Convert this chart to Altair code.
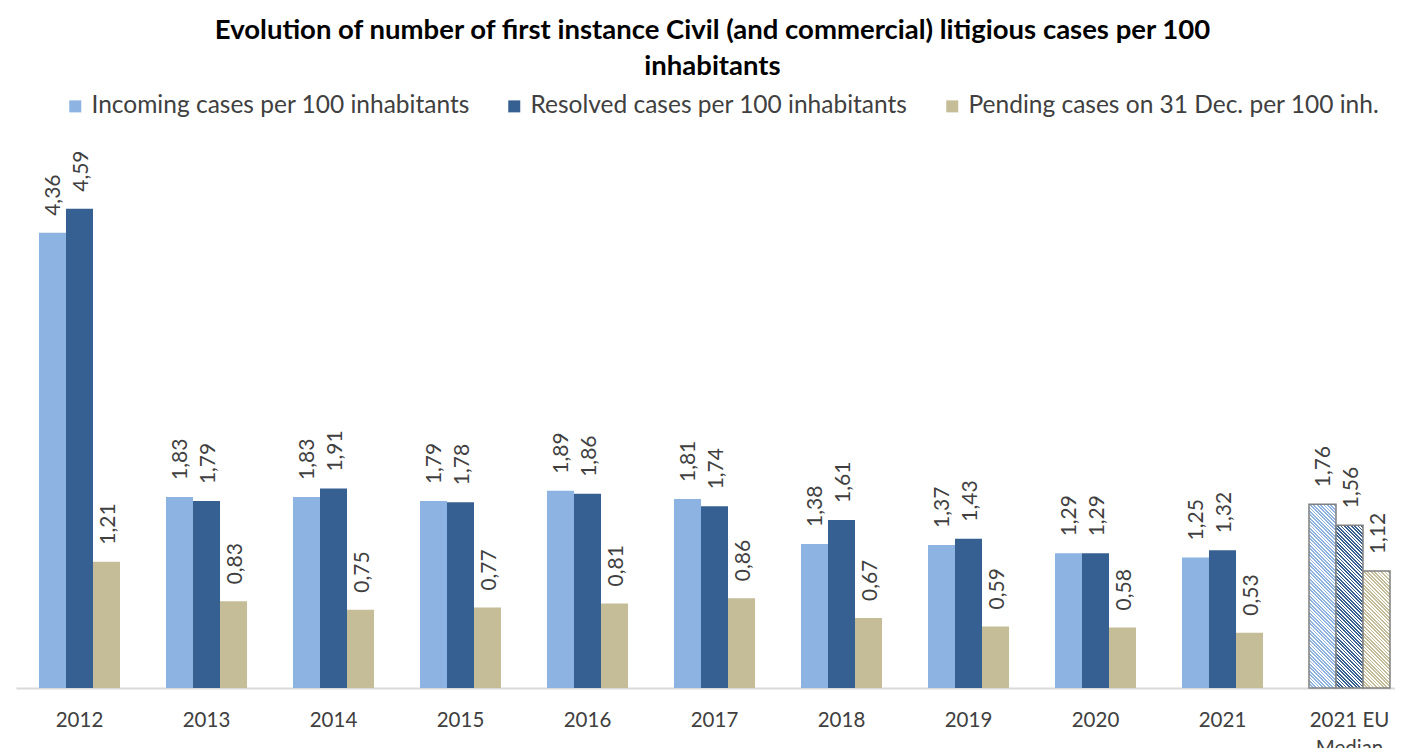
import altair as alt
import pandas as pd

years = ["2012", "2013", "2014", "2015", "2016", "2017", "2018", "2019", "2020", "2021", "2021 EU Median"]
incoming = [4.36, 1.83, 1.83, 1.79, 1.89, 1.81, 1.38, 1.37, 1.29, 1.25, 1.76]
resolved = [4.59, 1.79, 1.91, 1.78, 1.86, 1.74, 1.61, 1.43, 1.29, 1.32, 1.56]
pending = [1.21, 0.83, 0.75, 0.77, 0.81, 0.86, 0.67, 0.59, 0.58, 0.53, 1.12]

series = ["Incoming cases per 100 inhabitants",
          "Resolved cases per 100 inhabitants",
          "Pending cases on 31 Dec. per 100 inh."]
colors = ["#8DB3E2", "#366092", "#C4BD97"]
median_cat = "2021 EU Median"

rows = []
for s, vals in zip(series, [incoming, resolved, pending]):
    for y, v in zip(years, vals):
        rows.append({"year": y, "series": s, "value": v,
                     "label": f"{v:.2f}".replace(".", ",")})
df = pd.DataFrame(rows)

FONT = "Lato"
PLOT_W = 1379
PLOT_H = 522
Y_MAX = 5
X_RANGE = 1397
P_IN = 0.362
P_OUT = 0.181

# bar geometry for hatch gradients
step = X_RANGE / (len(years) - P_IN + 2 * P_OUT)
bar_w = step * (1 - P_IN) / 3
period = 3.4


def hatch(color, value):
    h = value / Y_MAX * PLOT_H
    k = h / bar_w
    s = (1 + k) / (1 + k * k)
    n = max(1, round((bar_w + h) / period))
    stops = []
    for i in range(n):
        a = i / n
        b = (i + 0.5) / n
        c = (i + 1) / n
        stops += [{"offset": a, "color": color}, {"offset": b, "color": color},
                  {"offset": b, "color": "#ffffff"}, {"offset": c, "color": "#ffffff"}]
    return {"gradient": "linear", "x1": 0, "y1": 1, "x2": s, "y2": 1 - s * k,
            "stops": stops}


x_enc = alt.X("year:N", sort=years, title=None,
              scale=alt.Scale(range=[0, X_RANGE], paddingInner=P_IN, paddingOuter=P_OUT),
              axis=alt.Axis(labelAngle=0, ticks=False, domainColor="#d9d9d9", domainWidth=2,
                            labelFontSize=20.5, labelColor="#404040", labelFont=FONT,
                            labelPadding=22, labelLineHeight=28,
                            labelExpr="datum.value == '2021 EU Median' ? ['2021 EU', 'Median'] : datum.label"))
xo_enc = alt.XOffset("series:N", sort=series, scale=alt.Scale(paddingInner=0, paddingOuter=0))
y_enc = alt.Y("value:Q", scale=alt.Scale(domain=[0, Y_MAX]), axis=None)

base = alt.Chart(df)

bars = base.transform_filter(alt.datum.year != median_cat).mark_bar().encode(
    x=x_enc, xOffset=xo_enc, y=y_enc,
    color=alt.Color("series:N", sort=series,
                    scale=alt.Scale(domain=series, range=colors),
                    legend=alt.Legend(title=None, orient="none", legendX=47, legendY=-72,
                                      direction="horizontal", columns=3,
                                      symbolType="square", symbolSize=144,
                                      symbolStrokeWidth=0, labelFontSize=24.5,
                                      labelFont=FONT, labelColor="#404040",
                                      labelLimit=600,
                                      columnPadding=32, labelOffset=4)),
)

med_layers = []
for s, vals, c in zip(series, [incoming, resolved, pending], colors):
    v = vals[years.index(median_cat)]
    med_layers.append(
        base.transform_filter((alt.datum.year == median_cat) & (alt.datum.series == s))
        .mark_bar(fill=hatch(c, v), stroke="#808080", strokeWidth=1.5)
        .encode(x=x_enc, xOffset=xo_enc, y=y_enc)
    )

labels = base.mark_text(angle=270, align="left", baseline="middle", dx=17, dy=2,
                        fontSize=21, font=FONT, color="#404040").encode(
    x=x_enc, xOffset=xo_enc, y=y_enc, text="label:N")

chart = alt.layer(bars, *med_layers, labels).properties(
    width=PLOT_W, height=PLOT_H,
    background="white",
    autosize=alt.AutoSizeParams(type="none"),
    padding={"left": 8, "top": 158, "right": 0, "bottom": 60},
    title=alt.TitleParams(
        text=["Evolution of number of first instance Civil (and commercial) litigious cases per 100",
              "inhabitants"],
        fontSize=27.5, font=FONT, fontWeight="bold", color="#000000",
        lineHeight=36, anchor="middle", offset=14, dx=7),
).configure_view(strokeWidth=0, stroke="transparent")

chart.save("out.html", embed_options={"renderer": "svg", "actions": False})
